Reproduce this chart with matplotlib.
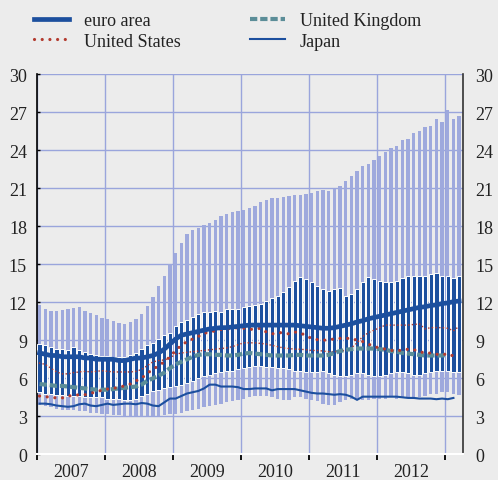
import numpy as np
import matplotlib
matplotlib.use('Agg')
import matplotlib.pyplot as plt

# monthly observations, Jan 2007 .. Mar 2013
n_months = 75

# full range across countries (light bars)
range_max = [11.8, 11.5, 11.35, 11.35, 11.4, 11.5, 11.55, 11.6, 11.35, 11.15, 11.0, 10.8,
             10.65, 10.55, 10.35, 10.3, 10.45, 10.65, 11.1, 11.7, 12.4, 13.3, 14.1, 15.0,
             15.9, 16.7, 17.4, 17.7, 17.9, 18.1, 18.3, 18.5, 18.8, 19.0, 19.1, 19.2,
             19.3, 19.45, 19.6, 19.95, 20.1, 20.2, 20.2, 20.35, 20.4, 20.5, 20.5, 20.55,
             20.6, 20.75, 20.85, 20.75, 20.95, 21.2, 21.6, 21.95, 22.4, 22.75, 22.9, 23.2,
             23.55, 23.85, 24.15, 24.35, 24.8, 24.9, 25.35, 25.5, 25.85, 25.95, 26.5, 26.2,
             27.2, 26.5, 26.7]
range_min = [3.9, 3.8, 3.7, 3.6, 3.5, 3.5, 3.5, 3.4, 3.4, 3.3, 3.3, 3.2,
             3.2, 3.1, 3.1, 3.0, 3.0, 3.0, 3.0, 3.0, 3.0, 3.0, 3.1, 3.2,
             3.2, 3.3, 3.4, 3.5, 3.6, 3.7, 3.8, 3.9, 4.0, 4.1, 4.2, 4.3,
             4.4, 4.5, 4.6, 4.6, 4.6, 4.5, 4.4, 4.3, 4.3, 4.5, 4.5, 4.4,
             4.3, 4.2, 4.0, 3.9, 3.9, 4.1, 4.3, 4.4, 4.4, 4.3, 4.3, 4.4,
             4.4, 4.4, 4.5, 4.4, 4.5, 4.5, 4.4, 4.5, 4.6, 4.8, 4.8, 4.9,
             4.9, 4.8, 4.7]

# inner range (dark bars)
inner_high = [8.7, 8.65, 8.5, 8.3, 8.35, 8.25, 8.45, 8.2, 8.05, 7.9, 7.85, 7.8,
              7.8, 7.7, 7.65, 7.65, 7.85, 8.0, 8.3, 8.6, 8.8, 9.1, 9.4, 9.6,
              10.15, 10.45, 10.6, 10.85, 11.05, 11.2, 11.25, 11.3, 11.25, 11.5, 11.5, 11.5,
              11.6, 11.7, 11.75, 11.85, 12.1, 12.35, 12.5, 12.8, 13.2, 13.7, 14.0, 13.85,
              13.6, 13.3, 13.05, 12.9, 13.05, 13.1, 12.5, 12.65, 13.05, 13.6, 14.0, 13.85,
              13.65, 13.6, 13.6, 13.7, 13.9, 14.1, 14.05, 14.05, 14.05, 14.25, 14.3, 14.1,
              14.05, 13.95, 14.1]
inner_low = [4.9, 4.8, 4.8, 4.7, 4.7, 4.6, 4.6, 4.6, 4.5, 4.5, 4.5, 4.5,
             4.4, 4.4, 4.4, 4.3, 4.3, 4.4, 4.6, 4.8, 5.0, 5.1, 5.2, 5.3,
             5.4, 5.5, 5.6, 5.8, 6.0, 6.2, 6.3, 6.4, 6.5, 6.6, 6.6, 6.7,
             6.8, 6.9, 7.0, 7.0, 6.9, 6.9, 6.8, 6.8, 6.7, 6.6, 6.6, 6.5,
             6.5, 6.5, 6.6, 6.4, 6.3, 6.2, 6.2, 6.3, 6.4, 6.4, 6.3, 6.2,
             6.2, 6.3, 6.4, 6.5, 6.5, 6.4, 6.3, 6.3, 6.4, 6.5, 6.6, 6.6,
             6.6, 6.5, 6.5]

euro_area = [8.0, 7.9, 7.8, 7.8, 7.7, 7.7, 7.7, 7.7, 7.6, 7.6, 7.5, 7.5,
             7.5, 7.5, 7.4, 7.4, 7.5, 7.6, 7.6, 7.7, 7.8, 8.0, 8.3, 8.7,
             9.1, 9.4, 9.5, 9.6, 9.7, 9.8, 9.9, 9.95, 10.0, 10.0, 10.05, 10.1,
             10.15, 10.2, 10.2, 10.2, 10.2, 10.2, 10.2, 10.2, 10.2, 10.2, 10.15, 10.1,
             10.05, 10.0, 9.95, 9.95, 10.0, 10.1, 10.2, 10.3, 10.45, 10.55, 10.7, 10.8,
             10.9, 11.0, 11.1, 11.2, 11.3, 11.4, 11.5, 11.6, 11.65, 11.75, 11.8, 11.9,
             11.95, 12.05, 12.1]
united_states = [4.6, 4.55, 4.5, 4.45, 4.45, 4.6, 4.65, 4.7, 4.7, 4.8, 4.95, 5.05,
                 5.15, 5.2, 5.3, 5.4, 5.55, 5.8, 6.0, 6.4, 6.7, 7.0, 7.3, 7.7,
                 8.2, 8.6, 8.9, 9.1, 9.3, 9.55, 9.65, 9.75, 9.85, 9.9, 9.95, 10.0,
                 9.95, 9.85, 9.9, 9.95, 9.65, 9.5, 9.6, 9.6, 9.5, 9.65, 9.6, 9.35,
                 9.15, 9.05, 9.0, 9.05, 9.1, 9.15, 9.15, 9.15, 9.0, 8.9, 8.7, 8.5,
                 8.4, 8.3, 8.2, 8.2, 8.2, 8.3, 8.25, 8.15, 7.95, 8.0, 7.9, 7.85,
                 7.95, 7.75, 7.7]
us_other = [7.2, 7.1, 6.8, 6.5, 6.35, 6.35, 6.45, 6.5, 6.55, 6.5, 6.55, 6.6,
            6.55, 6.5, 6.5, 6.5, 6.5, 6.55, 6.7, 7.0, 7.3, 7.4, 7.45, 7.6,
            7.9, 8.0, 8.05, 8.1, 8.15, 8.2, 8.25, 8.3, 8.35, 8.4, 8.5, 8.65,
            8.8, 8.8, 8.8, 8.75, 8.7, 8.6, 8.5, 8.4, 8.35, 8.3, 8.3, 8.25,
            8.2, 8.2, 8.15, 8.1, 8.1, 8.15, 8.2, 8.4, 8.8, 9.3, 9.6, 9.8,
            10.0, 10.2, 10.2, 10.2, 10.2, 10.2, 10.25, 10.3, 9.9, 10.0, 10.0, 10.0,
            9.95, 9.75, 10.1]
united_kingdom = [5.55, 5.5, 5.45, 5.4, 5.4, 5.35, 5.3, 5.25, 5.2, 5.15, 5.1, 5.1,
                  5.1, 5.15, 5.2, 5.25, 5.3, 5.35, 5.5, 5.8, 6.0, 6.2, 6.45, 6.8,
                  7.1, 7.3, 7.5, 7.7, 7.85, 7.9, 7.9, 7.85, 7.85, 7.8, 7.8, 7.85,
                  7.95, 8.0, 7.95, 7.9, 7.85, 7.8, 7.8, 7.8, 7.8, 7.85, 7.85, 7.8,
                  7.8, 7.8, 7.8, 7.85, 8.0, 8.15, 8.25, 8.3, 8.35, 8.35, 8.35, 8.35,
                  8.3, 8.25, 8.15, 8.1, 8.0, 7.95, 7.9, 7.85, 7.8, 7.8, 7.8, 7.8,
                  7.85, np.nan, np.nan]
japan = [4.0, 4.0, 3.95, 3.85, 3.8, 3.75, 3.8, 3.95, 4.0, 3.85, 3.8, 3.9,
         4.0, 3.9, 3.95, 4.0, 4.0, 3.95, 4.05, 4.0, 3.85, 3.8, 4.1, 4.4,
         4.4, 4.6, 4.8, 4.9, 5.0, 5.2, 5.5, 5.5, 5.35, 5.35, 5.35, 5.3,
         5.15, 5.15, 5.2, 5.2, 5.2, 5.05, 5.15, 5.15, 5.15, 5.15, 5.05, 4.95,
         4.85, 4.8, 4.8, 4.75, 4.7, 4.75, 4.7, 4.55, 4.3, 4.55, 4.55, 4.55,
         4.55, 4.55, 4.55, 4.55, 4.5, 4.45, 4.45, 4.4, 4.4, 4.4, 4.35, 4.4,
         4.35, 4.45, np.nan]

years = ['2007', '2008', '2009', '2010', '2011', '2012']

BG = '#ececec'
DARK = '#1c4f9e'
LIGHT = '#9ea9dd'
RED = '#b33a2e'
TEAL = '#5b8d98'

plt.rcParams['font.family'] = ['Liberation Serif', 'DejaVu Serif']
plt.rcParams['font.size'] = 13
plt.rcParams['text.color'] = '#222222'
plt.rcParams['xtick.color'] = '#222222'
plt.rcParams['ytick.color'] = '#222222'

x = 2007 + (np.arange(n_months) + 0.5) / 12
rmax, rmin = np.array(range_max), np.array(range_min)
ihi, ilo = np.array(inner_high), np.array(inner_low)

fig = plt.figure(figsize=(4.98, 4.81), dpi=100, facecolor=BG)
ax = fig.add_axes([36.7 / 498, 1 - 455.3 / 481, 426.6 / 498, 380 / 481])
ax.set_facecolor(BG)

# bars
ax.bar(x, rmax - rmin, bottom=rmin, width=0.05, color=LIGHT, zorder=2)
ax.bar(x, ihi - ilo, bottom=ilo, width=0.062, color=DARK, edgecolor='white',
       linewidth=0.7, zorder=3)

# lines
l_jp, = ax.plot(x, japan, color=DARK, lw=1.5, zorder=4, label='Japan')
ax.plot(x, us_other, color=RED, lw=1.2, ls=(0, (0.01, 2.2)),
        dash_capstyle='round', zorder=4)
l_uk, = ax.plot(x, united_kingdom, color=TEAL, lw=3.0, ls=(0, (1.75, 0.7)),
                zorder=5, label='United Kingdom')
l_us, = ax.plot(x, united_states, color=RED, lw=2.3, ls=(0, (0.01, 2.4)),
                dash_capstyle='round', zorder=5, label='United States')
l_ea, = ax.plot(x, euro_area, color=DARK, lw=3.4, zorder=6, label='euro area')

ax.set_xlim(2007, 2013.27)
ax.set_ylim(0, 30)
ax.set_yticks(range(0, 31, 3))
ax.set_xticks(range(2007, 2014))
ax.set_xticklabels([])
ax.set_xticks([2007.5 + i for i in range(len(years))], minor=True)
ax.set_xticklabels(years, minor=True)
ax.tick_params(axis='x', which='major', direction='out', length=4, width=1.3, color='black')
ax.tick_params(axis='x', which='minor', length=0, pad=6)
ax.tick_params(axis='y', direction='in', length=2, width=1, color='black', pad=7)

ax.grid(True, color='#9aa5dc', lw=1.0, zorder=0)
ax.set_axisbelow(True)
ax.spines['top'].set_visible(False)
ax.spines['bottom'].set_color('white')
ax.spines['bottom'].set_linewidth(1.5)
ax.spines['left'].set_linewidth(1.2)
ax.spines['right'].set_linewidth(1.2)
ax.spines['right'].set_color('#333333')

ax2 = ax.twinx()
ax2.set_ylim(0, 30)
ax2.set_yticks(range(0, 31, 3))
ax2.tick_params(axis='y', length=0, pad=8.5)
for s in ['top', 'bottom', 'left', 'right']:
    ax2.spines[s].set_visible(False)

fig.legend(handles=[l_ea, l_us, l_uk, l_jp],
           labels=['euro area', 'United States', 'United Kingdom', 'Japan'],
           loc='upper left', bbox_to_anchor=(34 / 498, 1 - 13 / 481), ncol=2,
           frameon=False, handlelength=1.95, handletextpad=0.8, columnspacing=3.85,
           labelspacing=0.2, borderaxespad=0, borderpad=0, fontsize=13)

fig.savefig('out.png', dpi=100, facecolor=BG)
